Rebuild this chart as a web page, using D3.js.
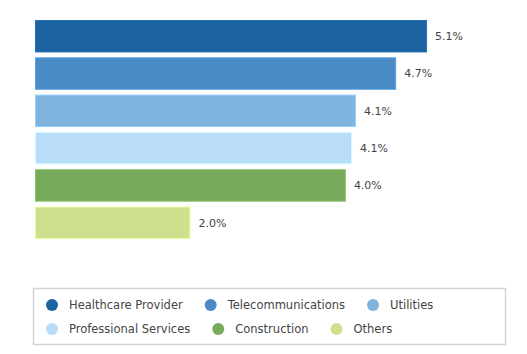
<!DOCTYPE html>
<html>
<head>
<meta charset="utf-8">
<script src="https://cdn.jsdelivr.net/npm/d3@7"></script>
<style>
  body { margin: 0; background: #fff; }
  svg { display: block; font-family: "DejaVu Sans", sans-serif; }
</style>
</head>
<body>
<div class="bar-chart"></div>
<script>
const categories = ['Healthcare Provider', 'Telecommunications', 'Utilities', 'Professional Services', 'Construction', 'Others'];
const values = [5.07, 4.67, 4.15, 4.1, 4.02, 2.01];
const valueLabels = ['5.1%', '4.7%', '4.1%', '4.1%', '4.0%', '2.0%'];
const colors = ['#1c64a1', '#4a8bc5', '#7fb4df', '#b9dcf9', '#77aa5b', '#cde08d'];

const width = 527, height = 354;
const margin = { top: 20, left: 35 };

const svg = d3.select('.bar-chart').append('svg')
  .attr('width', width).attr('height', height);

const x = d3.scaleLinear().domain([0, 6]).range([0, 464]);
const y = d3.scaleBand().domain(categories).range([0, 219]).paddingInner(0.13).paddingOuter(0.0);

const g = svg.append('g')
  .attr('transform', 'translate(' + margin.left + ',' + margin.top + ')');

g.selectAll('.bar')
  .data(categories)
  .enter().append('rect')
  .attr('class', 'bar')
  .attr('x', 0.5)
  .attr('y', function (d) { return y(d) + 0.5; })
  .attr('width', function (d, i) { return x(values[i]) - 1; })
  .attr('height', y.bandwidth() - 1)
  .attr('fill', function (d, i) { return colors[i]; })
  .attr('stroke', function (d, i) { return d3.color(colors[i]).brighter(0.4); })
  .attr('stroke-width', 1);

g.selectAll('.label')
  .data(categories)
  .enter().append('text')
  .attr('class', 'label')
  .attr('x', function (d, i) { return x(values[i]) + 8; })
  .attr('y', function (d) { return y(d) + y.bandwidth() / 2; })
  .attr('dy', '0.35em')
  .attr('font-size', 11)
  .attr('fill', '#444')
  .text(function (d, i) { return valueLabels[i]; });

// legend
const legend = svg.append('g');
legend.append('rect')
  .attr('x', 33.5).attr('y', 288.5)
  .attr('width', 472).attr('height', 56)
  .attr('fill', '#fff')
  .attr('stroke', '#d4d4d4')
  .attr('stroke-width', 1.5);

const rows = [[0, 1, 2], [3, 4, 5]];
rows.forEach(function (row, r) {
  let cx = 52;
  const cy = 305 + r * 24;
  row.forEach(function (i) {
    legend.append('circle')
      .attr('cx', cx).attr('cy', cy).attr('r', 6)
      .attr('fill', colors[i]);
    const t = legend.append('text')
      .attr('x', cx + 17).attr('y', cy)
      .attr('dy', '0.35em')
      .attr('font-size', 11.5)
      .attr('fill', '#444')
      .text(categories[i]);
    cx += 17 + t.node().getComputedTextLength() + 28;
  });
});
</script>
</body>
</html>
